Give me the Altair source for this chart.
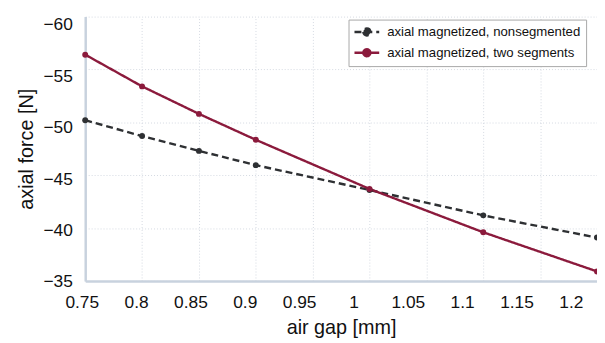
import altair as alt
import pandas as pd

gap = [0.75, 0.8, 0.85, 0.9, 1.0, 1.1, 1.2]
nonseg = [-50.2, -48.7, -47.3, -45.95, -43.6, -41.2, -39.1]
twoseg = [-56.4, -53.4, -50.8, -48.35, -43.7, -39.6, -35.9]
series = ["axial magnetized, nonsegmented", "axial magnetized, two segments"]
x_ticks = [0.75, 0.8, 0.85, 0.9, 0.95, 1.0, 1.05, 1.1, 1.15, 1.2]
y_ticks = [-60, -55, -50, -45, -40, -35]

rows = []
for g, v in zip(gap, nonseg):
    rows.append({"gap": g, "force": v, "series": series[0]})
for g, v in zip(gap, twoseg):
    rows.append({"gap": g, "force": v, "series": series[1]})
df = pd.DataFrame(rows)

FONT = "Liberation Sans"
sym = "M-2,0H2M-0.56,0A0.56,0.56 0 1,0 0.56,0A0.56,0.56 0 1,0 -0.56,0Z"
legend = alt.Legend(
    orient="none", legendX=266, legendY=3, title=None,
    fillColor="white", strokeColor="#a8a8a8", padding=5,
    labelFont=FONT, labelFontSize=13.3, labelColor="#111", labelLimit=400,
    symbolType=sym, symbolSize=156, symbolStrokeWidth=2.5,
    symbolOffset=6, labelOffset=13, rowPadding=4,
)
color = alt.Color("series:N", scale=alt.Scale(domain=series, range=["#2e3033", "#8b1a3c"]), legend=legend)
dash = alt.StrokeDash("series:N", scale=alt.Scale(domain=series, range=[[7, 4], [1, 0]]), legend=legend)

x = alt.X("gap:Q", scale=alt.Scale(domain=[0.75, 1.2], nice=False, zero=False),
          axis=alt.Axis(values=x_ticks, format="~g", title="air gap [mm]", labelFlush=False,
                        labelOffset=alt.ExprRef(expr="-3.5 - (datum.value - 0.75) * 51")))
y = alt.Y("force:Q", scale=alt.Scale(domain=[-60, -35], reverse=True, nice=False, zero=False),
          axis=alt.Axis(values=y_ticks, title="axial force [N]", labelFlush=False,
                        labelOffset=alt.ExprRef(expr="8.5 - (datum.value + 60) * 0.3")))

lines = alt.Chart(df).mark_line(strokeWidth=2.4).encode(x=x, y=y, color=color, strokeDash=dash)
pts = alt.Chart(df).mark_circle(size=36, opacity=1).encode(x=x, y=y, color=color)

chart = alt.layer(lines, pts).properties(
    width=517, height=267,
    autosize=alt.AutoSizeParams(type="none"),
    padding={"left": 78, "top": 7, "right": 0, "bottom": 60},
    background="white",
).configure_axis(
    labelFont=FONT, labelFontSize=17.5, labelColor="#111",
    titleFont=FONT, titleFontSize=20, titleFontWeight="normal", titleColor="#111",
    grid=True, gridColor="#d5dae2", gridDash=[1, 2], gridWidth=1,
    domainColor="#c8d2de", domainWidth=2.5, ticks=False,
).configure_axisX(labelPadding=13, titlePadding=7).configure_axisY(
    labelPadding=13, titlePadding=7
).configure_view(stroke=None)

chart.save("out.html", embed_options={"renderer": "svg", "actions": False})
